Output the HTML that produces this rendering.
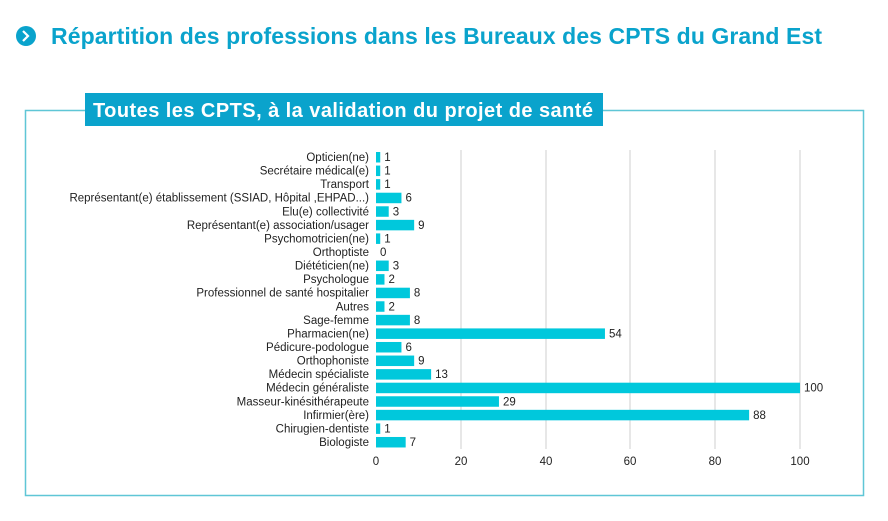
<!DOCTYPE html>
<html><head><meta charset="utf-8"><style>
body{margin:0;width:888px;height:516px;background:#fff;overflow:hidden;font-family:"Liberation Sans",sans-serif}
</style></head><body>
<svg width="888" height="516" xmlns="http://www.w3.org/2000/svg" font-family="Liberation Sans, sans-serif">
<circle cx="26" cy="36" r="10" fill="#0aa3cc"/>
<path d="M23 31 L28 36 L23 41" stroke="#fff" stroke-width="2.2" fill="none"/>
<text x="51" y="44" font-size="23" font-weight="bold" fill="#0aa3cc" textLength="771">Répartition des professions dans les Bureaux des CPTS du Grand Est</text>
<rect x="25.5" y="110.5" width="838" height="385" fill="none" stroke="#5fc6d6" stroke-width="1.5"/>
<rect x="85" y="93" width="518" height="33" fill="#0aa3cc"/>
<text x="93" y="117" font-size="20" font-weight="bold" fill="#fff" textLength="500">Toutes les CPTS, à la validation du projet de santé</text>
<g stroke="#cfcfcf" stroke-width="1">
<line x1="461" y1="150" x2="461" y2="449"/><line x1="546" y1="150" x2="546" y2="449"/>
<line x1="630" y1="150" x2="630" y2="449"/><line x1="715" y1="150" x2="715" y2="449"/>
<line x1="800" y1="150" x2="800" y2="449"/>
</g>
<g font-size="11.5" fill="#222" text-anchor="middle">
<text x="376" y="465">0</text><text x="461" y="465">20</text><text x="546" y="465">40</text><text x="630" y="465">60</text><text x="715" y="465">80</text><text x="800" y="465">100</text>
</g>
<g id="bars" font-size="11.5" fill="#222"></g>
</svg>
<script>
var d=[["Opticien(ne)",1],["Secrétaire médical(e)",1],["Transport",1],["Représentant(e) établissement (SSIAD, Hôpital ,EHPAD...)",6],["Elu(e) collectivité",3],["Représentant(e) association/usager",9],["Psychomotricien(ne)",1],["Orthoptiste",0],["Diététicien(ne)",3],["Psychologue",2],["Professionnel de santé hospitalier",8],["Autres",2],["Sage-femme",8],["Pharmacien(ne)",54],["Pédicure-podologue",6],["Orthophoniste",9],["Médecin spécialiste",13],["Médecin généraliste",100],["Masseur-kinésithérapeute",29],["Infirmier(ère)",88],["Chirugien-dentiste",1],["Biologiste",7]];
var g=document.getElementById("bars"),s="";
d.forEach(function(r,i){var y=157+i*13.57,w=r[1]*4.24;
s+='<text x="369" y="'+(y+4)+'" text-anchor="end">'+r[0]+'</text>';
if(w>0)s+='<rect x="376" y="'+(y-5)+'" width="'+w+'" height="10.5" fill="#00c8dc"/>';
s+='<text x="'+(376+w+4)+'" y="'+(y+4)+'">'+r[1]+'</text>';});
g.innerHTML=s;
</script>
</body></html>
